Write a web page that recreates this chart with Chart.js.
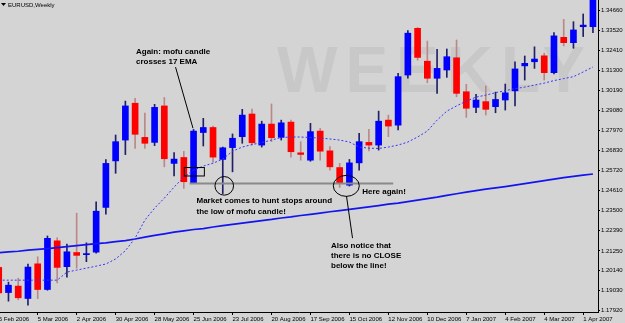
<!DOCTYPE html>
<html>
<head>
<meta charset="utf-8">
<script src="https://cdn.jsdelivr.net/npm/chart.js@4.4.1/dist/chart.umd.min.js"></script>
<style>
  html, body { margin: 0; padding: 0; background: #d4d4d4; }
  #wrap { width: 625px; height: 323px; position: relative; }
</style>
</head>
<body>
<div id="wrap"><canvas id="eurusdChart"></canvas></div>
<script>
// weekly candles, EURUSD
const weeks = [
  '5 Feb 2006', '12 Feb 2006', '19 Feb 2006', '26 Feb 2006', '5 Mar 2006', '12 Mar 2006', '19 Mar 2006', '26 Mar 2006',
  '2 Apr 2006', '9 Apr 2006', '16 Apr 2006', '23 Apr 2006', '30 Apr 2006', '7 May 2006', '14 May 2006', '21 May 2006',
  '28 May 2006', '4 Jun 2006', '11 Jun 2006', '18 Jun 2006', '25 Jun 2006', '2 Jul 2006', '9 Jul 2006', '16 Jul 2006',
  '23 Jul 2006', '30 Jul 2006', '6 Aug 2006', '13 Aug 2006', '20 Aug 2006', '27 Aug 2006', '3 Sep 2006', '10 Sep 2006',
  '17 Sep 2006', '24 Sep 2006', '1 Oct 2006', '8 Oct 2006', '15 Oct 2006', '22 Oct 2006', '29 Oct 2006', '5 Nov 2006',
  '12 Nov 2006', '19 Nov 2006', '26 Nov 2006', '3 Dec 2006', '10 Dec 2006', '17 Dec 2006', '24 Dec 2006', '31 Dec 2006',
  '7 Jan 2007', '14 Jan 2007', '21 Jan 2007', '28 Jan 2007', '4 Feb 2007', '11 Feb 2007', '18 Feb 2007', '25 Feb 2007',
  '4 Mar 2007', '11 Mar 2007', '18 Mar 2007', '25 Mar 2007', '1 Apr 2007', '8 Apr 2007'
];

const openP = [
  1.2033, 1.1893, 1.1929, 1.1860, 1.2053, 1.1910, 1.2181, 1.2037, 1.2116, 1.2104,
  1.2118, 1.2367, 1.2626, 1.2742, 1.2947, 1.2757, 1.2729, 1.2932, 1.2612, 1.2645,
  1.2504, 1.2784, 1.2812, 1.2634, 1.2700, 1.2761, 1.2887, 1.2714, 1.2831, 1.2757,
  1.2842, 1.2671, 1.2630, 1.2792, 1.2682, 1.2589, 1.2491, 1.2615, 1.2729, 1.2714,
  1.2853, 1.2825, 1.3104, 1.3364, 1.3181, 1.3086, 1.3132, 1.3200, 1.3011, 1.2924,
  1.2956, 1.2928, 1.2965, 1.3016, 1.3155, 1.3178, 1.3211, 1.3117, 1.3314, 1.3284,
  1.3373, 1.3373
];
const highP = [
  1.2052, 1.1951, 1.1973, 1.2052, 1.2092, 1.2208, 1.2198, 1.2163, 1.2335, 1.2170,
  1.2398, 1.2634, 1.2770, 1.2959, 1.2974, 1.2892, 1.2941, 1.2979, 1.2672, 1.2679,
  1.2801, 1.2863, 1.2820, 1.2703, 1.2776, 1.2913, 1.2914, 1.2847, 1.2943, 1.2853,
  1.2853, 1.2733, 1.2835, 1.2807, 1.2705, 1.2612, 1.2634, 1.2780, 1.2802, 1.2903,
  1.2881, 1.3114, 1.3351, 1.3369, 1.3293, 1.3247, 1.3249, 1.3299, 1.3052, 1.2996,
  1.3043, 1.3009, 1.3054, 1.3178, 1.3210, 1.3261, 1.3226, 1.3340, 1.3414, 1.3401,
  1.3444, 1.3560
];
const lowP = [
  1.1873, 1.1845, 1.1853, 1.1823, 1.1859, 1.1906, 1.1947, 1.1979, 1.2029, 1.2065,
  1.2112, 1.2330, 1.2557, 1.2661, 1.2696, 1.2695, 1.2711, 1.2593, 1.2542, 1.2473,
  1.2500, 1.2709, 1.2619, 1.2444, 1.2565, 1.2724, 1.2714, 1.2703, 1.2733, 1.2742,
  1.2647, 1.2630, 1.2624, 1.2630, 1.2575, 1.2478, 1.2486, 1.2575, 1.2682, 1.2686,
  1.2761, 1.2798, 1.3086, 1.3187, 1.3061, 1.3002, 1.3091, 1.2983, 1.2868, 1.2894,
  1.2881, 1.2894, 1.2909, 1.2932, 1.3076, 1.3141, 1.3076, 1.3110, 1.3266, 1.3253,
  1.3318, 1.3340
];
const closeP = [
  1.1891, 1.1934, 1.1864, 1.2035, 1.1910, 1.2195, 1.2033, 1.2120, 1.2100, 1.2110,
  1.2346, 1.2612, 1.2733, 1.2932, 1.2774, 1.2724, 1.2924, 1.2638, 1.2636, 1.2510,
  1.2792, 1.2812, 1.2647, 1.2699, 1.2752, 1.2881, 1.2727, 1.2831, 1.2755, 1.2838,
  1.2677, 1.2662, 1.2789, 1.2680, 1.2593, 1.2504, 1.2615, 1.2733, 1.2714, 1.2847,
  1.2820, 1.3095, 1.3337, 1.3202, 1.3086, 1.3141, 1.3206, 1.3002, 1.2919, 1.2965,
  1.2913, 1.2968, 1.3005, 1.3138, 1.3169, 1.3193, 1.3117, 1.3322, 1.3284, 1.3355,
  1.3382, 1.3540
];

// 17 EMA (dotted) and the slow average (solid)
const ema17 = [
  1.1962, 1.1962, 1.1962, 1.1962, 1.1962, 1.1962, 1.1962, 1.2007, 1.2018, 1.2029,
  1.2040, 1.2052, 1.2080, 1.2126, 1.2196, 1.2296, 1.2363, 1.2419, 1.2480, 1.2536,
  1.2575, 1.2597, 1.2613, 1.2636, 1.2680, 1.2703, 1.2717, 1.2728, 1.2742, 1.2756,
  1.2759, 1.2759, 1.2756, 1.2753, 1.2748, 1.2742, 1.2731, 1.2703, 1.2697, 1.2695,
  1.2703, 1.2714, 1.2731, 1.2759, 1.2792, 1.2853, 1.2903, 1.2932, 1.2959, 1.2981,
  1.2992, 1.3006, 1.3017, 1.3028, 1.3037, 1.3048, 1.3059, 1.3073, 1.3084, 1.3095,
  1.3121, 1.3149
];
const emaSlow = [
  1.2115, 1.2119, 1.2123, 1.2129, 1.2133, 1.2138, 1.2143, 1.2149, 1.2154, 1.2160,
  1.2165, 1.2170, 1.2177, 1.2182, 1.2191, 1.2202, 1.2211, 1.2220, 1.2229, 1.2236,
  1.2244, 1.2249, 1.2258, 1.2266, 1.2273, 1.2280, 1.2287, 1.2294, 1.2300, 1.2308,
  1.2314, 1.2322, 1.2328, 1.2335, 1.2343, 1.2349, 1.2356, 1.2363, 1.2370, 1.2377,
  1.2385, 1.2391, 1.2399, 1.2408, 1.2416, 1.2424, 1.2434, 1.2443, 1.2452, 1.2460,
  1.2469, 1.2476, 1.2483, 1.2491, 1.2499, 1.2508, 1.2516, 1.2525, 1.2533, 1.2540,
  1.2547, 1.2553
];

const priceTicks = [1.17920, 1.19030, 1.20140, 1.21250, 1.22390, 1.23500, 1.24610, 1.25720,
  1.26830, 1.27970, 1.29080, 1.30190, 1.31300, 1.32410, 1.33520, 1.34660];
const xTickLabels = ['5 Feb 2006', '5 Mar 2006', '2 Apr 2006', '30 Apr 2006', '28 May 2006', '25 Jun 2006',
  '23 Jul 2006', '20 Aug 2006', '17 Sep 2006', '15 Oct 2006', '12 Nov 2006', '10 Dec 2006',
  '7 Jan 2007', '4 Feb 2007', '4 Mar 2007', '1 Apr 2007'];

// annotations, in week index / price units
const mofuIndex = 20;
const stopLine = { from: 19.6, to: 40.5 };
const notes = [
  { text: ['Again: mofu candle', 'crosses 17 EMA'], x: 14.09, y: 1.3221, step: 9.5 },
  { text: ['Market comes to hunt stops around', 'the low of mofu candle!'], x: 20.3, y: 1.2393, step: 11 },
  { text: ['Here again!'], x: 37.32, y: 1.2441, step: 10 },
  { text: ['Also notice that', 'there is no CLOSE', 'below the line!'], x: 34.11, y: 1.2139, step: 9.7 }
];
const pointers = [
  { from: [18.15, 1.3148], to: [19.94, 1.2808] },
  { from: [35.70, 1.2430], to: [36.32, 1.2196] }
];
const rings = [
  { x: 23.15, y: 1.2487, rx: 9.3, ry: 9.3 },
  { x: 35.68, y: 1.2487, rx: 13, ry: 10.5 }
];
const crossBox = { x0: 19.05, x1: 21.11, y0: 1.2589, y1: 1.2542 };

const FONT = '"Liberation Sans", Arial, sans-serif';
const isUp = i => closeP[i] >= openP[i];

const backdrop = {
  id: 'backdrop',
  beforeDraw(chart) {
    const c = chart.ctx, a = chart.chartArea;
    c.save();
    c.fillStyle = '#d4d4d4';
    c.fillRect(0, 0, chart.width, chart.height);
    c.fillStyle = '#c8c8c8';
    c.font = 'bold 64px ' + FONT;
    c.letterSpacing = '8px';
    c.textBaseline = 'alphabetic';
    c.fillText('WEEKLY', a.left + 277, a.top + 92);
    c.restore();
  },
  afterDraw(chart) {
    const c = chart.ctx;
    c.save();
    c.fillStyle = '#000';
    c.beginPath();
    c.moveTo(1, 3); c.lineTo(6, 3); c.lineTo(3.5, 6); c.closePath();
    c.fill();
    c.font = '6px ' + FONT;
    c.textBaseline = 'alphabetic';
    c.fillText('EURUSD,Weekly', 8, 6.5);
    c.restore();
  }
};

const markup = {
  id: 'markup',
  afterDatasetsDraw(chart) {
    const c = chart.ctx, xs = chart.scales.x, ys = chart.scales.y;
    const px = v => xs.getPixelForValue(v), py = v => ys.getPixelForValue(v);
    c.save();

    // low of the mofu candle
    const ly = py(lowP[mofuIndex]);
    c.strokeStyle = '#8a8a8a';
    c.lineWidth = 2;
    c.beginPath();
    c.moveTo(px(stopLine.from), ly);
    c.lineTo(px(stopLine.to), ly);
    c.stroke();

    c.strokeStyle = '#000';
    c.lineWidth = 1;
    pointers.forEach(p => {
      c.beginPath();
      c.moveTo(px(p.from[0]), py(p.from[1]));
      c.lineTo(px(p.to[0]), py(p.to[1]));
      c.stroke();
    });
    rings.forEach(r => {
      c.beginPath();
      c.ellipse(px(r.x), py(r.y), r.rx, r.ry, 0, 0, Math.PI * 2);
      c.stroke();
    });
    const bx = px(crossBox.x0), by = py(crossBox.y0);
    c.strokeRect(bx, by, px(crossBox.x1) - bx, py(crossBox.y1) - by);

    c.fillStyle = '#000';
    c.font = 'bold 8px ' + FONT;
    c.textBaseline = 'alphabetic';
    notes.forEach(n => {
      n.text.forEach((t, k) => c.fillText(t, px(n.x), py(n.y) + k * n.step));
    });
    c.restore();
  }
};

const ctx = document.getElementById('eurusdChart').getContext('2d');
const eurusdChart = new Chart(ctx, {
  type: 'bar',
  data: {
    datasets: [
      {
        type: 'line',
        label: 'EMA 17',
        data: weeks.map((w, i) => ({ x: i, y: ema17[i] })),
        borderColor: '#3535ff',
        borderWidth: 1,
        borderDash: [2, 2],
        pointRadius: 0,
        order: 1
      },
      {
        type: 'line',
        label: 'Slow MA',
        data: weeks.map((w, i) => ({ x: i, y: emaSlow[i] })),
        borderColor: '#1414f0',
        borderWidth: 1.7,
        pointRadius: 0,
        order: 1
      },
      {
        label: 'Body',
        data: weeks.map((w, i) => ({ x: i, y: [openP[i], closeP[i]] })),
        backgroundColor: c => isUp(c.dataIndex) ? '#0000ff' : '#ff0000',
        barThickness: 6,
        minBarLength: 1,
        grouped: false,
        order: 2
      },
      {
        label: 'Wick',
        data: weeks.map((w, i) => ({ x: i, y: [lowP[i], highP[i]] })),
        backgroundColor: c => isUp(c.dataIndex) ? '#20206a' : '#bb8888',
        barThickness: 1,
        grouped: false,
        order: 3
      }
    ]
  },
  options: {
    responsive: true,
    maintainAspectRatio: false,
    animation: false,
    layout: { padding: 0 },
    plugins: { legend: { display: false }, tooltip: { enabled: false } },
    scales: {
      x: {
        type: 'linear',
        min: 0.13,
        max: 61.52,
        offset: false,
        afterBuildTicks: s => { s.ticks = xTickLabels.map(l => ({ value: weeks.indexOf(l) })); },
        afterFit: s => { s.height = 11; s.paddingLeft = 0; s.paddingRight = 0; },
        ticks: {
          autoSkip: false, maxRotation: 0, minRotation: 0, align: 'start', padding: 1,
          color: '#000', font: { family: FONT, size: 6 },
          callback: v => weeks[v]
        },
        grid: { offset: false, drawOnChartArea: false, tickLength: 3, color: '#000' },
        border: { display: true, color: '#000' }
      },
      y: {
        position: 'right',
        min: 1.17848,
        max: 1.35217,
        afterBuildTicks: s => { s.ticks = priceTicks.map(v => ({ value: v })); },
        afterFit: s => { s.width = 27; s.paddingTop = 0; s.paddingBottom = 0; },
        ticks: {
          autoSkip: false, padding: 1, color: '#000', font: { family: FONT, size: 6 },
          callback: v => v.toFixed(5)
        },
        grid: { drawOnChartArea: false, tickLength: 2, color: '#000' },
        border: { display: true, color: '#000' }
      }
    }
  },
  plugins: [backdrop, markup]
});
</script>
</body>
</html>
